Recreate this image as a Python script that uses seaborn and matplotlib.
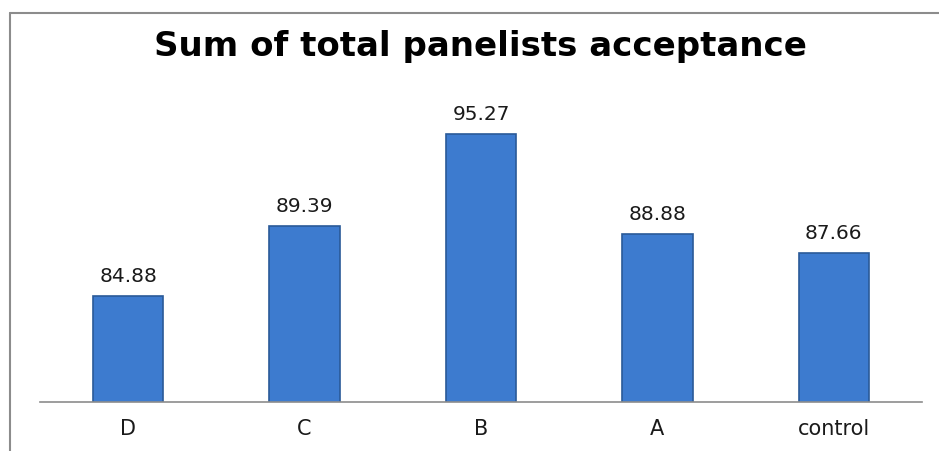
import matplotlib
matplotlib.use("Agg")
import matplotlib.pyplot as plt
import seaborn as sns
import pandas as pd

categories = ["D", "C", "B", "A", "control"]
values = [84.88, 89.39, 95.27, 88.88, 87.66]

sns.set_theme(style="white")
plt.rcParams['font.family'] = ['DejaVu Sans']

W, H = 939, 451
fig = plt.figure(figsize=(W / 100, H / 100), dpi=100)

# outer frame (chart border)
fig.add_artist(plt.Line2D([10 / W, 10 / W], [0, 1 - 13 / H], color="#8c8c8c", lw=1.5))
fig.add_artist(plt.Line2D([10 / W, 1], [1 - 13 / H, 1 - 13 / H], color="#8c8c8c", lw=1.5))

ax = fig.add_axes([40 / W, 1 - 402 / H, (922 - 40) / W, (402 - 60) / H])
df = pd.DataFrame({"cat": categories, "val": values})
sns.barplot(data=df, x="cat", y="val", ax=ax, color="#3d7bcf", width=0.4,
            edgecolor="#2a5a98", linewidth=1.2, saturation=1)
ax.set_ylim(78.1, 100)
ax.set_xlim(-0.5, 4.5)
ax.set_xlabel("")
ax.set_ylabel("")
ax.set_yticks([])
for s in ["top", "right", "left"]:
    ax.spines[s].set_visible(False)
ax.spines["bottom"].set_color("#8c8c8c")
ax.spines["bottom"].set_linewidth(1.2)
ax.tick_params(axis="x", length=0, pad=12, labelsize=15, colors="#1a1a1a")

for i, v in enumerate(values):
    ax.annotate(f"{v:.2f}", (i, v), xytext=(0, 10), textcoords="offset points",
                ha="center", va="baseline", fontsize=14.5, color="#1a1a1a")

fig.text(480 / W, 1 - 56 / H, "Sum of total panelists acceptance", ha="center", va="baseline",
         fontsize=24.5, fontweight="bold", color="black")

fig.savefig("out.png", dpi=100)
